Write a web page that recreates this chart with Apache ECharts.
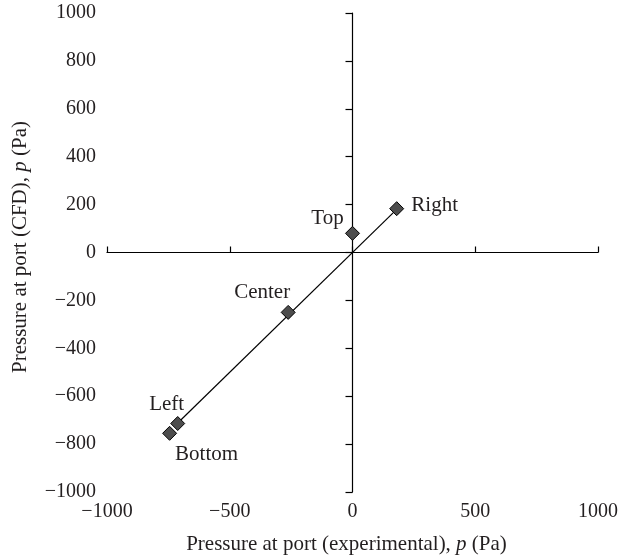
<!DOCTYPE html>
<html>
<head>
<meta charset="utf-8">
<script src="https://cdn.jsdelivr.net/npm/echarts@6/dist/echarts.min.js"></script>
<style>
  html, body { margin: 0; padding: 0; background: #fff; }
  #chart { width: 619px; height: 556px; }
</style>
</head>
<body>
<div id="chart"></div>
<script>
// Port pressures: CFD prediction vs. experimental measurement (Pa)
const ports = ['Right', 'Top', 'Center', 'Left', 'Bottom'];
const experimental = [180, 0, -262, -712, -745];
const cfd = [183, 80, -250, -714, -755];

// Reference line through the origin (CFD = experimental)
const refLineX = [-715, 180];
const refLineY = [-715, 180];

// Axis ranges and tick spacing
const xRange = [-1000, 1000];
const yRange = [-1000, 1000];
const xStep = 500;
const yStep = 200;

const FONT = 'Liberation Serif';
const TEXT = '#231f20';

// Label placement around each diamond (pixels from the marker centre)
const labelOffset = {
  Right: [38, -3],
  Top: [-25, -15],
  Center: [-26, -20],
  Left: [-11, -19],
  Bottom: [37, 21]
};

const minus = v => String(v).replace('-', '\u2212');

const chart = echarts.init(document.getElementById('chart'), null, { renderer: 'canvas' });

const baseAxis = (range, step) => ({
  type: 'value',
  min: range[0],
  max: range[1],
  interval: step,
  splitLine: { show: false }
});

const titleRich = {
  a: { fontFamily: FONT, fontSize: 21, color: TEXT },
  i: { fontFamily: FONT, fontSize: 21, color: TEXT, fontStyle: 'italic' }
};

chart.setOption({
  animation: false,
  backgroundColor: '#ffffff',
  grid: { left: 107, right: 21, top: 13, bottom: 64, outerBoundsMode: 'none' },
  xAxis: [
    Object.assign(baseAxis(xRange, xStep), {
      position: 'bottom',
      axisLine: { show: false, onZero: false },
      axisTick: { show: false },
      axisLabel: { margin: 10, fontFamily: FONT, fontSize: 20, color: TEXT, formatter: minus },
      name: '{a|Pressure at port (experimental), }{i|p}{a| (Pa)}',
      nameLocation: 'middle',
      nameGap: 42,
      nameTextStyle: { padding: [0, 12, 0, 0], rich: titleRich }
    }),
    Object.assign(baseAxis(xRange, xStep), {
      position: 'bottom',
      axisLine: { show: true, onZero: true, onZeroAxisIndex: 0, lineStyle: { color: '#000', width: 1.2 } },
      axisTick: { show: true, inside: true, length: 6, lineStyle: { color: '#000', width: 1.2 } },
      axisLabel: { show: false }
    })
  ],
  yAxis: [
    Object.assign(baseAxis(yRange, yStep), {
      position: 'left',
      axisLine: { show: false, onZero: false },
      axisTick: { show: false },
      axisLabel: { margin: 11, fontFamily: FONT, fontSize: 20, color: TEXT, formatter: minus },
      name: '{a|Pressure at port (CFD), }{i|p}{a| (Pa)}',
      nameLocation: 'middle',
      nameGap: 76,
      nameRotate: 90,
      nameTextStyle: { padding: [0, 0, 0, 11], rich: titleRich }
    }),
    Object.assign(baseAxis(yRange, yStep), {
      position: 'left',
      axisLine: { show: true, onZero: true, onZeroAxisIndex: 0, lineStyle: { color: '#000', width: 1.2 } },
      axisTick: { show: true, inside: false, length: 7, lineStyle: { color: '#000', width: 1.2 } },
      axisLabel: { show: false }
    })
  ],
  series: [
    {
      type: 'line',
      xAxisIndex: 0,
      yAxisIndex: 0,
      data: refLineX.map((x, i) => [x, refLineY[i]]),
      symbol: 'none',
      lineStyle: { color: '#000', width: 1.2 },
      silent: true,
      z: 2
    },
    {
      type: 'scatter',
      xAxisIndex: 0,
      yAxisIndex: 0,
      symbol: 'diamond',
      symbolSize: 14,
      itemStyle: { color: '#4d4d4d', borderColor: '#000', borderWidth: 1, opacity: 1 },
      z: 3,
      data: ports.map((name, i) => ({
        name,
        value: [experimental[i], cfd[i]],
        label: {
          show: true,
          position: 'inside',
          offset: labelOffset[name],
          align: 'center',
          verticalAlign: 'middle',
          formatter: name,
          fontFamily: FONT,
          fontSize: 21,
          color: TEXT
        }
      }))
    }
  ]
});
</script>
</body>
</html>
